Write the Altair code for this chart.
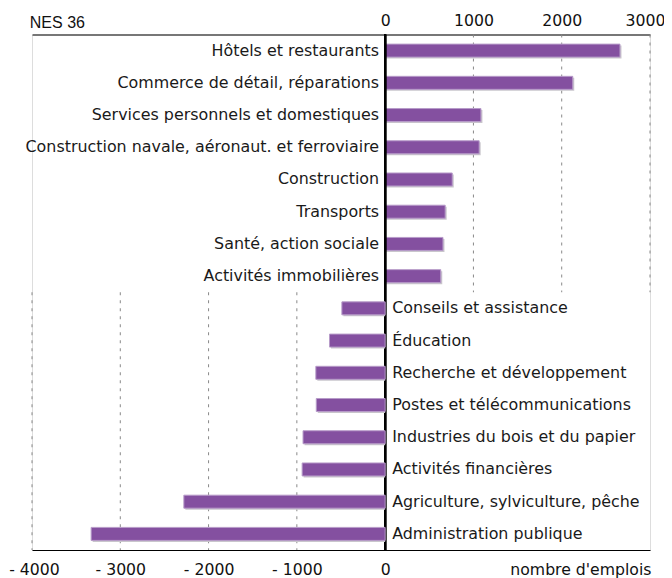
import altair as alt
import pandas as pd

cats_pos = ["Hôtels et restaurants", "Commerce de détail, réparations",
            "Services personnels et domestiques",
            "Construction navale, aéronaut. et ferroviaire", "Construction",
            "Transports", "Santé, action sociale", "Activités immobilières"]
vals_pos = [2660, 2125, 1085, 1065, 760, 680, 655, 630]

cats_neg = ["Conseils et assistance", "Éducation", "Recherche et développement",
            "Postes et télécommunications", "Industries du bois et du papier",
            "Activités financières", "Agriculture, sylviculture, pêche",
            "Administration publique"]
vals_neg = [-490, -630, -785, -780, -930, -940, -2280, -3330]

ticks_top = [0, 1000, 2000, 3000]
ticks_bottom = [-4000, -3000, -2000, -1000, 0]
grid_pos = [1000, 2000, 3000]
grid_neg = [-4000, -3000, -2000, -1000]

all_cats = cats_pos + cats_neg
pos = pd.DataFrame({"cat": cats_pos, "val": vals_pos})
neg = pd.DataFrame({"cat": cats_neg, "val": vals_neg})
gpos = pd.DataFrame({"g": grid_pos, "ys": cats_pos[0], "ye": cats_pos[-1]})
gneg = pd.DataFrame({"g": grid_neg, "ys": cats_neg[0], "ye": cats_neg[-1]})

FONT = "DejaVu Sans"
FS = 15.7
FS_CAT = 15.9
PURPLE = "#8450a0"
xsc = alt.Scale(domain=[-4000, 3000], nice=False, zero=False)
ysc = alt.Scale(domain=all_cats, paddingInner=0.0, paddingOuter=0.0)
Y = lambda: alt.Y("cat:N", sort=None, scale=ysc, axis=None)

axis_top = alt.Axis(orient="top", values=ticks_top, format="d", grid=False,
                    ticks=False, labelFlush=False,
                    labelOffset={"condition": {"test": "datum.value == 3000",
                                               "value": -5}, "value": 0},
                    domainColor="#000", domainWidth=1, labelFont=FONT,
                    labelFontSize=FS, labelColor="#111", labelPadding=8.6,
                    labelBaseline="alphabetic",
                    title="NES 36", titleFont="Liberation Sans",
                    titleFontSize=16, titleFontWeight="normal", titleColor="#111",
                    titleX=-2.7, titleY=-6.7, titleAlign="left",
                    titleBaseline="alphabetic", titleAngle=0)
axis_bottom = alt.Axis(orient="bottom", values=ticks_bottom, grid=False,
                       ticks=False, labelFlush=False,
                       labelOffset={"condition": {"test": "datum.value == -4000",
                                                  "value": 2}, "value": 0},
                       domainColor="#000", domainWidth=1,
                       labelFont=FONT, labelFontSize=FS, labelColor="#111",
                       labelPadding=24, labelBaseline="alphabetic",
                       labelExpr="datum.value < 0 ? '- ' + abs(datum.value) : datum.value",
                       title="nombre d'emplois", titleFont=FONT,
                       titleFontSize=FS, titleFontWeight="normal",
                       titleColor="#111", titleX=619, titleY=24,
                       titleAlign="right", titleBaseline="alphabetic")


def group(df, gdf, axis, label_align, label_dx):
    X = lambda f: alt.X(f, scale=xsc, axis=axis, title=axis.title)
    grid = alt.Chart(gdf).mark_rule(strokeWidth=1, color="#888",
                                    strokeDash=[3, 5]).encode(
        x=X("g:Q"),
        y=alt.Y("ys:N", sort=None, scale=ysc, axis=None, bandPosition=0),
        y2=alt.Y2("ye:N", bandPosition=1))
    shadow = alt.Chart(df).mark_bar(size=13, color="#c9c6cc", xOffset=1.5,
                                    yOffset=1.5).encode(
        x=X("val:Q"), x2=alt.X2(datum=0), y=Y())
    bars = alt.Chart(df).mark_bar(size=13, color=PURPLE, stroke="#b79bc9",
                                  strokeWidth=1).encode(
        x=X("val:Q"), x2=alt.X2(datum=0), y=Y())
    labels = alt.Chart(df).mark_text(align=label_align, dx=label_dx,
                                     baseline="middle", font=FONT,
                                     fontSize=FS_CAT, color="#1a1a1a").encode(
        x=alt.X(datum=0, scale=xsc, axis=axis, title=axis.title),
        y=Y(), text="cat:N")
    return alt.layer(grid, shadow, bars, labels)


top = group(pos, gpos, axis_top, "right", -6)
bottom = group(neg, gneg, axis_bottom, "left", 7)
zero = alt.Chart(pos).mark_rule(color="#000", strokeWidth=2).encode(
    x=alt.X(datum=0, scale=xsc, axis=axis_top, title=axis_top.title))

chart = alt.layer(alt.layer(top, zero), bottom).resolve_scale(
    x="independent").properties(
    width=618, height=515.5,
    autosize=alt.AutoSizeParams(type="none"),
    padding={"left": 24, "top": 26.5, "right": 14, "bottom": 28},
).configure_view(stroke=None).configure(background="white")

chart.save("out.html", embed_options={"renderer": "svg", "actions": False})
